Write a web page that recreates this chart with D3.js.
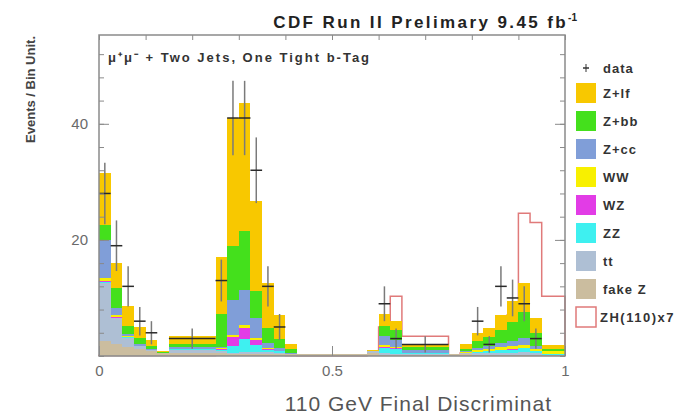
<!DOCTYPE html>
<html>
<head>
<meta charset="utf-8">
<script src="https://cdn.jsdelivr.net/npm/d3@7"></script>
<style>
  body { margin: 0; background: #fff; }
  text { font-family: "Liberation Sans", Arial, sans-serif; }
</style>
</head>
<body>
<svg id="chart"></svg>
<script>
// Bin edges of the discriminant histogram (variable width)
const binEdges = [0, 0.025, 0.05, 0.075, 0.1, 0.125, 0.15, 0.25, 0.275, 0.3, 0.325, 0.35,
  0.375, 0.4, 0.425, 0.575, 0.6, 0.625, 0.65, 0.75, 0.775, 0.8, 0.825, 0.85, 0.875, 0.9,
  0.925, 0.95, 1.0];

// Background processes, one value per bin (stacked bottom -> top)
const fakeZ = [2.5, 2.0, 1.5, 1.2, 0.9, 0.5, 0.6, 0.6, 0.3, 0.3, 0.3, 0.3, 0.3, 0.3, 0.3, 0.6, 0.2, 0.1, 0.1, 0.3, 0.3, 0.2, 0.2, 0.2, 0.2, 0.2, 0.2, 0.1];
const ttbar = [10.0, 4.5, 1.6, 0.6, 0.2, 0.1, 0.5, 0.3, 0.3, 0.4, 0.4, 0.4, 0.3, 0.1, 0.0, 0.2, 0.4, 0.3, 0.2, 0.0, 0.2, 0.3, 0.3, 0.4, 0.4, 0.5, 0.3, 0.1];
const zz = [0.3, 0.1, 0.1, 0.0, 0.0, 0.0, 0.1, 0.1, 1.2, 2.2, 1.2, 0.3, 0.2, 0.0, 0.0, 0.0, 0.8, 0.8, 0.2, 0.0, 0.1, 0.2, 0.3, 0.4, 0.5, 0.6, 0.3, 0.1];
const wz = [0.2, 0.1, 0.0, 0.0, 0.0, 0.0, 0.0, 0.2, 1.5, 2.0, 0.8, 0.2, 0.1, 0.0, 0.0, 0.0, 0.2, 0.1, 0.0, 0.0, 0.0, 0.0, 0.1, 0.1, 0.1, 0.1, 0.1, 0.0];
const ww = [0.5, 0.3, 0.2, 0.0, 0.0, 0.0, 0.0, 0.1, 0.3, 0.5, 0.4, 0.2, 0.0, 0.0, 0.0, 0.0, 0.3, 0.2, 0.1, 0.0, 0.1, 0.3, 0.3, 0.4, 0.5, 0.5, 0.3, 0.5];
const zcc = [6.5, 1.3, 0.4, 0.2, 0.1, 0.0, 0.3, 0.2, 6.0, 6.0, 3.5, 0.9, 0.5, 0.2, 0.0, 0.0, 1.5, 1.3, 0.4, 0.0, 0.2, 0.4, 0.5, 0.7, 0.9, 1.2, 0.6, 0.1];
const zbb = [2.5, 3.4, 1.4, 1.1, 0.6, 0.1, 0.6, 5.7, 9.4, 10.2, 4.6, 2.5, 1.6, 0.6, 0.0, 0.1, 1.8, 1.7, 0.6, 0.0, 0.3, 1.2, 1.5, 2.3, 3.2, 4.4, 2.2, 0.3];
const zlf = [9.0, 4.3, 3.4, 1.9, 0.9, 0.1, 1.4, 9.8, 22.0, 22.0, 15.5, 7.7, 4.0, 0.9, 0.1, 0.2, 2.0, 1.5, 0.4, 0.1, 0.8, 1.4, 1.6, 2.5, 3.7, 5.0, 2.5, 0.7];

// Observed events and scaled signal
const dataCounts = [28, 19, 12, 6, 4, 0, 3, 13, 41, 41, 32, 12, 5, 0, 0, 0, 9, 3, 2, 0, 0, 6, 2, 12, 10, 9, 3, 0];
const signalZH = [0.1, 0.1, 0.1, 0.1, 0.1, 0.1, 0.1, 0.3, 0.8, 0.8, 0.5, 0.3, 0.2, 0.1, 0.05, 0.2, 5.0, 10.3, 3.4, 0.2, 0.5, 1.5, 2.5, 4.0, 7.0, 24.6, 23.0, 10.3];

// Axis ticks
const xTicks = [0, 0.5, 1];
const xTickLabels = ["0", "0.5", "1"];
const yTicks = [20, 40];

// Legend
const legendKeys = ["zlf", "zbb", "zcc", "ww", "wz", "zz", "ttbar", "fakeZ"];
const legendLabels = ["Z+lf", "Z+bb", "Z+cc", "WW", "WZ", "ZZ", "tt", "fake Z"];

const colors = {
  fakeZ: "#cbbd9f",
  ttbar: "#aebfd4",
  zz: "#3ef0f0",
  wz: "#e23ce6",
  ww: "#f8f000",
  zcc: "#809ed8",
  zbb: "#44e01c",
  zlf: "#f8c800",
};
const signalColor = "#e07a7a";

// Chart dimensions
const width = 690;
const height = 414;
const frame = { left: 99, right: 565, top: 35, bottom: 356 };

const svg = d3.select("#chart").attr("width", width).attr("height", height);

const xScale = d3.scaleLinear().domain([0, 1]).range([frame.left, frame.right]);
const yScale = d3.scaleLinear().domain([0, 55.3]).range([frame.bottom, frame.top]);

// Build bins table
const bins = binEdges.slice(0, -1).map((lo, i) => ({
  lo: lo,
  hi: binEdges[i + 1],
  fakeZ: fakeZ[i],
  ttbar: ttbar[i],
  zz: zz[i],
  wz: wz[i],
  ww: ww[i],
  zcc: zcc[i],
  zbb: zbb[i],
  zlf: zlf[i],
  data: dataCounts[i],
  signal: signalZH[i],
}));

const stackKeys = ["fakeZ", "ttbar", "zz", "wz", "ww", "zcc", "zbb", "zlf"];
const series = d3.stack().keys(stackKeys)(bins);

// Signal outline (drawn first, stack covers it)
const signalPoints = [[0, 0]];
bins.forEach((d) => {
  signalPoints.push([d.lo, d.signal]);
  signalPoints.push([d.hi, d.signal]);
});
signalPoints.push([1, 0]);

const signalLine = d3
  .line()
  .x((d) => xScale(d[0]))
  .y((d) => yScale(d[1]));

svg
  .append("path")
  .datum(signalPoints)
  .attr("d", signalLine)
  .attr("fill", "none")
  .attr("stroke", signalColor)
  .attr("stroke-width", 1.5);

// Stacked backgrounds
svg
  .append("g")
  .selectAll("g")
  .data(series)
  .enter()
  .append("g")
  .attr("fill", (s) => colors[s.key])
  .selectAll("rect")
  .data((s) => s)
  .enter()
  .append("rect")
  .attr("x", (d) => xScale(d.data.lo))
  .attr("width", (d) => xScale(d.data.hi) - xScale(d.data.lo))
  .attr("y", (d) => yScale(d[1]))
  .attr("height", (d) => yScale(d[0]) - yScale(d[1]))
  .attr("shape-rendering", "crispEdges");

// Data points with error bars
const dataBins = bins.filter((d) => d.data > 0);

svg
  .selectAll(".err")
  .data(dataBins)
  .enter()
  .append("line")
  .attr("class", "err")
  .attr("x1", (d) => xScale((d.lo + d.hi) / 2))
  .attr("x2", (d) => xScale((d.lo + d.hi) / 2))
  .attr("y1", (d) => yScale(d.data + Math.sqrt(d.data)))
  .attr("y2", (d) => yScale(Math.max(0, d.data - Math.sqrt(d.data))))
  .attr("stroke", "#7a7a7a")
  .attr("stroke-width", 1.5);

svg
  .selectAll(".bar-data")
  .data(dataBins)
  .enter()
  .append("line")
  .attr("class", "bar-data")
  .attr("x1", (d) => xScale(d.lo))
  .attr("x2", (d) => xScale(d.hi))
  .attr("y1", (d) => yScale(d.data))
  .attr("y2", (d) => yScale(d.data))
  .attr("stroke", "#2a2a2a")
  .attr("stroke-width", 1.5);

// Axes (ROOT style, ticks inside the frame)
const axisColor = "#8a8a8a";

function styleAxis(g) {
  g.select(".domain").remove();
  g.selectAll("line").attr("stroke", axisColor);
  g.selectAll("text")
    .attr("fill", "#6a6a6a")
    .style("font-size", "15px");
}

svg
  .append("g")
  .attr("transform", `translate(${frame.left},0)`)
  .call(d3.axisLeft(yScale).tickValues(d3.range(0, 56, 4)).tickSize(-5).tickFormat(""))
  .call(styleAxis);

svg
  .append("g")
  .attr("transform", `translate(${frame.left},0)`)
  .call(d3.axisLeft(yScale).tickValues(yTicks).tickSize(-10).tickPadding(11))
  .call(styleAxis);

svg
  .append("g")
  .attr("transform", `translate(${frame.right},0)`)
  .call(d3.axisRight(yScale).tickValues(d3.range(0, 56, 4)).tickSize(-5).tickFormat(""))
  .call(styleAxis);

svg
  .append("g")
  .attr("transform", `translate(${frame.right},0)`)
  .call(d3.axisRight(yScale).tickValues(yTicks).tickSize(-10).tickFormat(""))
  .call(styleAxis);

svg
  .append("g")
  .attr("transform", `translate(0,${frame.top})`)
  .call(d3.axisTop(xScale).tickValues(d3.range(0, 1.01, 0.1)).tickSize(-5).tickFormat(""))
  .call(styleAxis);

svg
  .append("g")
  .attr("transform", `translate(0,${frame.bottom})`)
  .call(
    d3
      .axisBottom(xScale)
      .tickValues(xTicks)
      .tickSize(-10)
      .tickPadding(9)
      .tickFormat((d, i) => xTickLabels[i])
  )
  .call(styleAxis);

// Frame
svg
  .append("rect")
  .attr("x", frame.left)
  .attr("y", frame.top)
  .attr("width", frame.right - frame.left)
  .attr("height", frame.bottom - frame.top)
  .attr("fill", "none")
  .attr("stroke", axisColor)
  .attr("stroke-width", 1.5);

// Title
const title = svg
  .append("text")
  .attr("x", 577)
  .attr("y", 28)
  .attr("text-anchor", "end")
  .attr("font-weight", "bold")
  .attr("fill", "#222")
  .style("font-size", "17px")
  .style("letter-spacing", "2.4px");
title.append("tspan").text("CDF Run II Prelimary 9.45 fb");
title.append("tspan").attr("dy", -7).style("font-size", "10px").style("letter-spacing", "0px").text("-1");

// Channel label
svg
  .append("text")
  .attr("x", 108)
  .attr("y", 62)
  .attr("font-weight", "bold")
  .attr("fill", "#333")
  .style("font-size", "13px")
  .style("letter-spacing", "2px")
  .text("μ⁺μ⁻ + Two Jets, One Tight b-Tag");

// Axis titles
svg
  .append("text")
  .attr("x", 552)
  .attr("y", 411)
  .attr("text-anchor", "end")
  .attr("fill", "#555")
  .style("font-size", "21px")
  .style("letter-spacing", "1px")
  .text("110 GeV Final Discriminat");

svg
  .append("text")
  .attr("transform", "translate(35,36) rotate(-90)")
  .attr("text-anchor", "end")
  .attr("font-weight", "bold")
  .attr("fill", "#444")
  .style("font-size", "13px")
  .text("Events / Bin Unit.");

// Legend
const legendX = 576;
const legendY = 83;
const legendStep = 28;

const dataLegend = svg.append("g").attr("transform", `translate(${legendX},58)`);
dataLegend
  .append("line")
  .attr("x1", 10).attr("x2", 10).attr("y1", 6).attr("y2", 14)
  .attr("stroke", "#777").attr("stroke-width", 1.5);
dataLegend
  .append("line")
  .attr("x1", 7).attr("x2", 13).attr("y1", 10).attr("y2", 10)
  .attr("stroke", "#333").attr("stroke-width", 1.5);
dataLegend
  .append("text")
  .attr("x", 27).attr("y", 15)
  .attr("font-weight", "bold").attr("fill", "#333")
  .style("font-size", "13px")
  .style("letter-spacing", "1px")
  .text("data");

const legendItems = svg
  .selectAll(".legend-item")
  .data(legendKeys)
  .enter()
  .append("g")
  .attr("class", "legend-item")
  .attr("transform", (d, i) => `translate(${legendX},${legendY + i * legendStep})`);

legendItems
  .append("rect")
  .attr("width", 20)
  .attr("height", 20)
  .attr("fill", (d) => colors[d]);

legendItems
  .append("text")
  .attr("x", 27)
  .attr("y", 15)
  .attr("font-weight", "bold")
  .attr("fill", "#333")
  .style("font-size", "13px")
  .style("letter-spacing", "1px")
  .text((d, i) => legendLabels[i]);

const zhLegend = svg
  .append("g")
  .attr("transform", `translate(${legendX},${legendY + legendKeys.length * legendStep})`);
zhLegend
  .append("rect")
  .attr("width", 20)
  .attr("height", 20)
  .attr("fill", "#fff")
  .attr("stroke", signalColor)
  .attr("stroke-width", 1.5);
zhLegend
  .append("text")
  .attr("x", 24)
  .attr("y", 15)
  .attr("font-weight", "bold")
  .attr("fill", "#333")
  .style("font-size", "13px")
  .style("letter-spacing", "1.5px")
  .text("ZH(110)x7");
</script>
</body>
</html>
